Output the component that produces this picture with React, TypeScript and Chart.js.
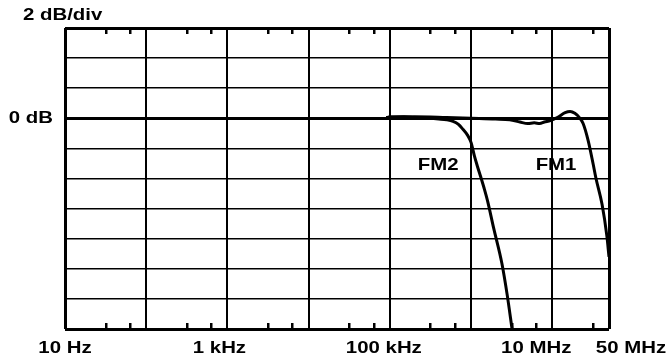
import React, { useEffect, useRef } from 'react';
import { Chart, registerables } from 'chart.js';

Chart.register(...registerables);

// ---------- data ----------
const fm1Freq = [9e4, 1e5, 2e5, 5e5, 1e6, 2e6, 3e6, 4e6, 5e6, 6e6, 7e6, 8e6, 9.5e6, 1.17e7, 1.44e7, 1.66e7, 1.9e7, 2.2e7, 2.4e7, 2.76e7, 3.18e7, 3.46e7, 4.1e7, 4.7e7, 5e7];
const fm1Gain = [0.05, 0.08, 0.1, 0.05, 0.0, -0.05, -0.1, -0.25, -0.35, -0.3, -0.35, -0.25, -0.15, 0.07, 0.37, 0.45, 0.33, 0.0, -0.35, -1.45, -3.0, -4.0, -5.7, -7.8, -9.2];

const fm2Freq = [9e4, 1e5, 1.5e5, 2e5, 3e5, 4e5, 5e5, 6e5, 7e5, 8e5, 9e5, 1e6, 1.1e6, 1.2e6, 1.3e6, 1.45e6, 1.6e6, 1.9e6, 2.4e6, 2.8e6, 3.2e6];
const fm2Gain = [0.05, 0.08, 0.1, 0.05, 0.0, -0.05, -0.1, -0.2, -0.4, -0.75, -1.1, -1.6, -2.5, -3.2, -3.8, -4.65, -5.5, -7.3, -9.65, -11.8, -14.0];

const xMin = 10;
const xMax = 5e7;
const xGridValues = [10, 100, 1e3, 1e4, 1e5, 1e6, 1e7, 5e7];
const xLabelValues = [10, 1e3, 1e5, 1e7, 5e7];
const xLabelTexts = ['10 Hz', '1 kHz', '100 kHz', '10 MHz', '50 MHz'];
const minorFactors = [3.16, 6.31];
const minorDecades = [10, 100, 1e3, 1e4, 1e5, 1e6, 1e7];

const yMin = -14;
const yMax = 6;
const yStep = 2;

const curveLabelTexts = ['FM2', 'FM1'];
const curveLabelX = [3.93e5, 1.114e7];
const curveLabelY = [-3.15, -3.15];

const yUnitText = '2 dB/div';
const yRefText = '0 dB';
const yRefValue = 0;

// ---------- style ----------
const FONT = 'bold 17px "Liberation Sans", Arial, sans-serif';
const TEXT_SCALE_X = 1.2;
const xLabelDx = [0, -8, -6, -16, 22];

function drawText(ctx: CanvasRenderingContext2D, text: string, x: number, y: number, align: CanvasTextAlign) {
  ctx.save();
  ctx.translate(x, y);
  ctx.scale(TEXT_SCALE_X, 1);
  ctx.font = FONT;
  ctx.fillStyle = '#000';
  ctx.textAlign = align;
  ctx.textBaseline = 'middle';
  ctx.fillText(text, 0, 0);
  ctx.restore();
}

const decorPlugin = {
  id: 'decor',
  afterDraw(chart: any) {
    const ctx: CanvasRenderingContext2D = chart.ctx;
    const xs = chart.scales.x;
    const ys = chart.scales.y;
    const top = ys.getPixelForValue(yMax);
    const bottom = ys.getPixelForValue(yMin);
    const left = xs.getPixelForValue(xMin);
    // minor ticks top & bottom
    ctx.save();
    ctx.fillStyle = '#000';
    minorDecades.forEach((d) => {
      minorFactors.forEach((f) => {
        const v = d * f;
        if (v >= xMax) return;
        const px = Math.round(xs.getPixelForValue(v));
        ctx.fillRect(px - 1, top, 2.5, 6);
        ctx.fillRect(px - 1, bottom - 6, 2.5, 6);
      });
    });
    ctx.restore();
    // x labels
    xLabelValues.forEach((v, i) => {
      drawText(ctx, xLabelTexts[i], xs.getPixelForValue(v) + xLabelDx[i], bottom + 19, 'center');
    });
    // y texts
    drawText(ctx, yUnitText, 23, 15, 'left');
    drawText(ctx, yRefText, left - 12, ys.getPixelForValue(yRefValue), 'right');
    // curve labels
    curveLabelTexts.forEach((t, i) => {
      drawText(ctx, t, xs.getPixelForValue(curveLabelX[i]), ys.getPixelForValue(curveLabelY[i]), 'center');
    });
  },
};

export default function App() {
  const ref = useRef<HTMLCanvasElement>(null);
  useEffect(() => {
    document.body.style.margin = '0';
    const canvas = ref.current!;
    const chart = new Chart(canvas, {
      type: 'line',
      data: {
        datasets: [
          {
            label: 'FM1',
            data: fm1Freq.map((f, i) => ({ x: f, y: fm1Gain[i] })),
            borderColor: '#000',
            borderWidth: 3,
            pointRadius: 0,
            cubicInterpolationMode: 'monotone',
            fill: false,
          },
          {
            label: 'FM2',
            data: fm2Freq.map((f, i) => ({ x: f, y: fm2Gain[i] })),
            borderColor: '#000',
            borderWidth: 3,
            pointRadius: 0,
            cubicInterpolationMode: 'monotone',
            fill: false,
          },
        ],
      },
      options: {
        animation: false,
        responsive: false,
        maintainAspectRatio: false,
        layout: { padding: { left: 65, right: 61, top: 28, bottom: 30 } },
        plugins: { legend: { display: false }, tooltip: { enabled: false } },
        scales: {
          x: {
            type: 'logarithmic',
            min: xMin,
            max: xMax,
            afterBuildTicks: (s: any) => {
              s.ticks = xGridValues.map((v) => ({ value: v }));
            },
            ticks: { display: false },
            grid: {
              color: '#000',
              lineWidth: (c: any) => (c.tick && (c.tick.value === xMin || c.tick.value === xMax) ? 3 : 2),
              drawTicks: false,
            },
            border: { display: false },
          },
          y: {
            type: 'linear',
            min: yMin,
            max: yMax,
            ticks: { display: false, stepSize: yStep },
            grid: {
              color: '#000',
              lineWidth: (c: any) => {
                const v = c.tick ? c.tick.value : null;
                if (v === yMin || v === yMax) return 3;
                if (v === yRefValue) return 3;
                return 1.5;
              },
              drawTicks: false,
            },
            border: { display: false },
          },
        },
      },
      plugins: [decorPlugin],
    } as any);
    return () => chart.destroy();
  }, []);
  return <canvas ref={ref} width={670} height={359} style={{ display: 'block', width: 670, height: 359 }} />;
}
